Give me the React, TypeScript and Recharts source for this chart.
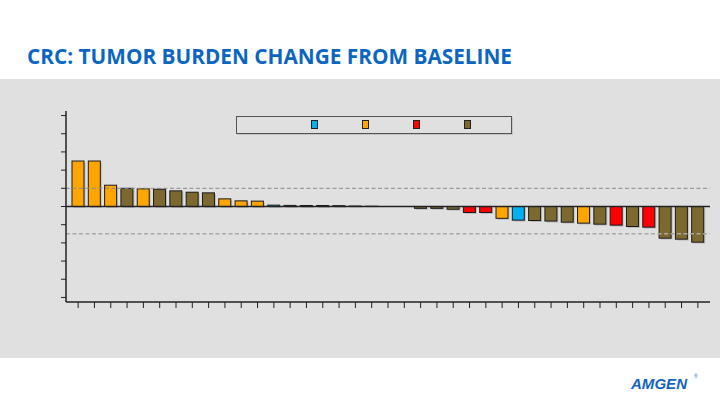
import { BarChart, Bar, XAxis, YAxis, ReferenceLine, Legend, Cell } from 'recharts';

// % change in tumour burden, one bar per patient (waterfall, sorted)
const changeValues = [
  50, 50, 23.4, 20, 19.4, 19, 17.2, 15.7, 15, 8.4,
  6.2, 5.9, 1.5, 1.2, 1.1, 1.1, 0.9, 0.5, 0.3, 0,
  0, -2, -2, -3, -6.6, -6.6, -13, -15, -15.4, -16,
  -17.2, -18.3, -19.4, -20.5, -22, -22.7, -34.8, -35.9, -39.2,
];

// colour group of every bar (b = blue, o = orange, r = red, k = brown)
const barGroups = [
  'o', 'o', 'o', 'k', 'o', 'k', 'k', 'k', 'k', 'o',
  'o', 'o', 'b', 'k', 'k', 'k', 'k', 'k', 'k', 'k',
  'k', 'k', 'k', 'k', 'r', 'r', 'o', 'b', 'k', 'k',
  'k', 'o', 'k', 'r', 'k', 'r', 'k', 'k', 'k',
];

const legendGroups = ['b', 'o', 'r', 'k'];
const groupColors: Record<string, string> = {
  b: '#00B0F0',
  o: '#FFA500',
  r: '#FF0000',
  k: '#7D6930',
};

const yTicks = [-100, -80, -60, -40, -20, 0, 20, 40, 60, 80, 100];
const thresholds = { progression: 20, response: -30 };

const data = changeValues.map((v, i) => ({ patient: i + 1, change: v, group: barGroups[i] }));

function ShadowBar(props: any) {
  const { x, y, width, height, fill } = props;
  if (width == null || height == null) return null;
  const top = Math.min(y, y + height);
  const h = Math.abs(height);
  if (h < 0.01) return null;
  return (
    <g>
      <rect x={x + 1.5} y={top + 1.5} width={width} height={h} fill="rgba(0,0,0,0.15)" />
      <rect x={x} y={top} width={width} height={h} fill={fill} stroke="#1a1a1a" strokeWidth={1} />
    </g>
  );
}

function LegendBox() {
  return (
    <div
      style={{
        width: 276,
        height: 18,
        boxSizing: 'border-box',
        border: '1.5px solid #555',
        boxShadow: '1px 1px 0 rgba(0,0,0,0.12)',
        display: 'flex',
        alignItems: 'center',
        paddingLeft: 74,
        gap: 44,
      }}
    >
      {legendGroups.map((g) => (
        <div
          key={g}
          style={{ width: 7, height: 9, boxSizing: 'border-box', background: groupColors[g], border: '1px solid #222' }}
        />
      ))}
    </div>
  );
}

export default function App() {
  return (
    <div style={{ position: 'absolute', left: 0, top: 0, width: 720, height: 405, background: '#fff', overflow: 'hidden' }}>
      <div style={{ position: 'absolute', left: 0, top: 79, width: 720, height: 279, background: '#E0E0E0' }} />
      <svg width={720} height={405} style={{ position: 'absolute', left: 0, top: 0 }}>
        <text
          x={27}
          y={64}
          textLength={485}
          lengthAdjust="spacingAndGlyphs"
          fontFamily="'Open Sans', sans-serif"
          fontWeight={700}
          fontSize={22}
          fill="#0A66C2"
        >
          CRC: TUMOR BURDEN CHANGE FROM BASELINE
        </text>
        <text
          x={631}
          y={388.5}
          textLength={56}
          lengthAdjust="spacingAndGlyphs"
          fontFamily="'Liberation Sans', Arial, sans-serif"
          fontWeight={700}
          fontStyle="italic"
          fontSize={15}
          fill="#1464C0"
        >
          AMGEN
        </text>
        <text x={694} y={378} fontFamily="'Liberation Sans', Arial, sans-serif" fontSize={5} fill="#1464C0">
          ®
        </text>
      </svg>
      <div style={{ position: 'absolute', left: 0, top: 0 }}>
        <BarChart width={720} height={405} data={data} margin={{ top: 111, right: 10, bottom: 93, left: 60 }}>
          <XAxis
            dataKey="patient"
            height={10}
            interval={0}
            padding={{ left: 4, right: 4 }}
            axisLine={{ stroke: '#222', strokeWidth: 1.5 }}
            tickLine={{ stroke: '#222' }}
            tickSize={6}
            tickFormatter={() => ''}
          />
          <YAxis
            width={6}
            domain={[-105, 105]}
            ticks={yTicks}
            allowDataOverflow
            axisLine={{ stroke: '#222', strokeWidth: 1.5 }}
            tickLine={{ stroke: '#222' }}
            tickSize={5}
            tickFormatter={() => ''}
          />
          <ReferenceLine y={thresholds.progression} stroke="#8a8a8a" strokeDasharray="4 2.5" />
          <ReferenceLine y={thresholds.response} stroke="#a8a8a8" strokeWidth={1.5} strokeDasharray="4 2.5" />
          <Legend
            layout="horizontal"
            verticalAlign="middle"
            align="center"
            wrapperStyle={{ left: 236, top: 115.5, width: 276, height: 18 }}
            content={() => <LegendBox />}
          />
          <Bar dataKey="change" barSize={12} shape={<ShadowBar />} isAnimationActive={false}>
            {data.map((d) => (
              <Cell key={d.patient} fill={groupColors[d.group]} />
            ))}
          </Bar>
          <ReferenceLine y={0} stroke="#222" strokeWidth={1.5} />
        </BarChart>
      </div>
    </div>
  );
}
